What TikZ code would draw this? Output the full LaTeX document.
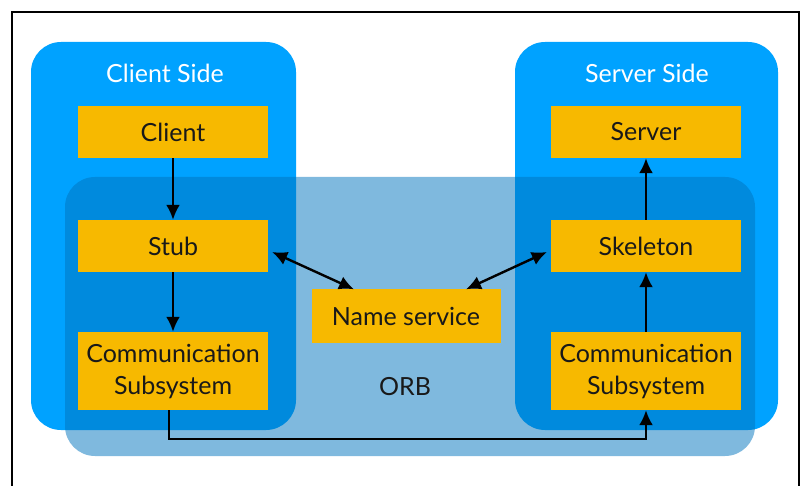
\documentclass[tikz,border=0pt]{standalone}
\usepackage{fontspec}
\setmainfont{Lato}
\usetikzlibrary{arrows.meta}
\definecolor{sideblue}{RGB}{0,162,255}
\definecolor{orbblue}{RGB}{0,115,189}
\definecolor{boxgold}{RGB}{247,185,0}
\begin{document}
\begin{tikzpicture}[x=1pt,y=-1pt,
  side/.style={fill=sideblue,rounded corners=30pt},
  compbox/.style={fill=boxgold,minimum width=190pt,inner sep=0pt,align=center,
    font=\fontsize{25}{32}\selectfont,text=black!90},
  tip/.style={Latex[length=15pt,width=14pt]},
  conn/.style={line width=2.4pt,-{Latex[length=15pt,width=14pt]}},
  biconn/.style={line width=2.4pt,{Latex[length=15pt,width=14pt]}-{Latex[length=15pt,width=14pt]}},
  title/.style={font=\fontsize{25}{30}\selectfont}]
\useasboundingbox (0,0) rectangle (803,486);
\clip (0,0) rectangle (803,486);
% outer frame
\draw[line width=2pt] (12,490) -- (12,12) -- (799,12) -- (799,490);
% client and server regions
\fill[side] (31,42) rectangle (296,430);
\fill[side] (515,42) rectangle (778,430);
\node[title,text=white] (clientside) at (165,73) {Client Side};
\node[title,text=white] (serverside) at (647,73) {Server Side};
% ORB layer, translucent
\fill[orbblue,fill opacity=0.5,rounded corners=30pt] (65,177) rectangle (755,456);
\node[title,text=black!90] (orb) at (405,387) {ORB};
% components
\node[compbox,minimum height=52pt] (client) at (173,132) {Client};
\node[compbox,minimum height=52pt] (stub) at (173,246) {Stub};
\node[compbox,minimum height=78pt] (commL) at (173,371) {Communication\\Subsystem};
\node[compbox,minimum height=52pt] (server) at (646,132) {Server};
\node[compbox,minimum height=52pt] (skel) at (646,246) {Skeleton};
\node[compbox,minimum height=78pt] (commR) at (646,371) {Communication\\Subsystem};
\node[compbox,minimum width=189pt,minimum height=53pt] (names) at (406,316) {Name service};
% connectors
\draw[conn] (client.south) -- (stub.north);
\draw[conn] (stub.south) -- (commL.north);
\draw[conn] (commR.north) -- (skel.south);
\draw[conn] (skel.north) -- (server.south);
\draw[biconn] ([xshift=4pt,yshift=-6pt]stub.east) -- ([xshift=-52pt]names.north);
\draw[biconn] ([xshift=-4pt,yshift=-6pt]skel.west) -- ([xshift=60pt]names.north);
\draw[line width=2.4pt,-{Latex[length=15pt,width=14pt]}] ([xshift=-4pt]commL.south) |- ++(0,29) -| (commR.south);
\end{tikzpicture}
\end{document}
